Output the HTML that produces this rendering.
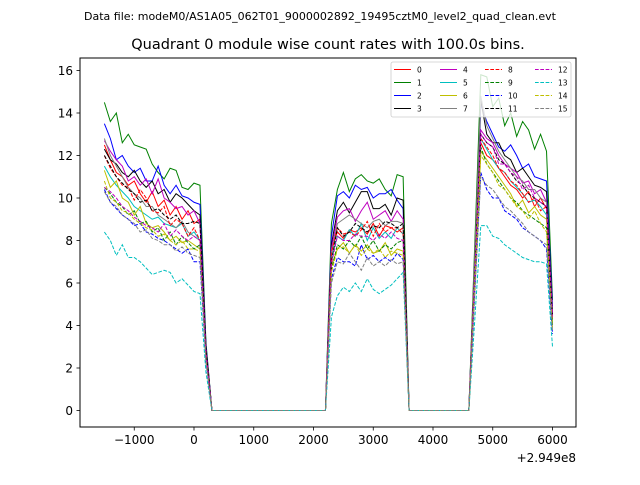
<!DOCTYPE html>
<html><head><meta charset="utf-8"><style>
body{margin:0;background:#fff;}
svg text{font-family:"DejaVu Sans","Liberation Sans",sans-serif;}
</style></head><body>
<svg id="chart" width="640" height="480" xmlns="http://www.w3.org/2000/svg">
<rect width="640" height="480" fill="#fff"/>
<text x="320" y="20" font-size="11" text-anchor="middle">Data file: modeM0/AS1A05_062T01_9000002892_19495cztM0_level2_quad_clean.evt</text>
<text x="328" y="49" font-size="14.5" text-anchor="middle">Quadrant 0 module wise count rates with 100.0s bins.</text>
<g id="series"></g>
<rect x="80" y="58" width="496" height="369" fill="none" stroke="#000" stroke-width="1"/>
<g id="axes"></g>
<g id="legend"></g>
</svg>
<script>
const xTicks=[-1000,0,1000,2000,3000,4000,5000,6000];
const xTickLabels=['\u22121000','0','1000','2000','3000','4000','5000','6000'];
const yTicks=[0,2,4,6,8,10,12,14,16];
const offsetLabel='+2.949e8';
const seriesNames=['0','1','2','3','4','5','6','7','8','9','10','11','12','13','14','15'];
const colors=['#ff0000','#008000','#0000ff','#000000','#bf00bf','#00bfbf','#bfbf00','#808080','#ff0000','#008000','#0000ff','#000000','#bf00bf','#00bfbf','#bfbf00','#808080'];
// segment 1: t=-1500..100, then t=200 value
const seg1=[
[12.5,11.8,11.2,11.0,10.6,10.8,10.2,9.8,10.3,9.6,9.9,9.2,9.6,9.0,9.4,8.8,9.0,3.0],
[14.5,13.6,14.0,12.6,13.0,12.5,12.4,12.3,11.6,11.2,10.9,11.4,11.3,10.5,10.4,10.7,10.6,3.2],
[13.5,12.8,11.8,12.0,11.5,11.2,11.4,10.8,10.8,11.5,10.6,10.2,10.6,10.1,10.0,9.8,9.7,3.1],
[12.3,11.8,11.6,11.2,11.0,11.3,10.8,10.5,10.8,10.2,10.4,9.8,10.2,10.0,9.7,9.4,9.2,3.0],
[12.7,12.2,11.8,11.5,10.8,11.0,10.6,10.9,10.2,10.9,10.0,9.8,9.5,9.6,9.2,9.4,8.8,2.9],
[11.5,11.0,10.6,10.3,10.0,9.6,9.4,9.2,9.0,9.1,8.8,8.7,8.6,8.8,8.2,8.4,8.0,2.6],
[11.3,10.5,10.8,10.0,9.8,9.2,9.6,8.8,8.6,8.7,8.4,8.0,8.2,7.9,8.0,7.8,7.6,2.5],
[12.8,12.0,11.5,11.0,10.5,10.2,10.0,9.6,9.6,9.2,9.0,8.8,8.6,8.9,8.4,8.2,8.0,2.6],
[12.0,11.4,11.0,10.6,10.5,9.9,10.4,10.0,9.4,9.3,9.6,8.7,9.0,8.8,8.2,8.6,8.0,2.7],
[10.5,10.2,9.8,9.6,9.2,9.4,8.8,8.9,8.4,8.6,8.0,8.4,7.8,8.2,7.9,7.6,7.8,2.5],
[10.4,9.8,9.5,9.2,9.0,8.7,8.8,8.4,8.3,8.1,8.0,7.8,7.6,7.4,7.6,7.0,7.0,2.3],
[12.0,11.5,11.0,10.7,10.4,10.2,9.8,9.9,9.4,9.5,9.2,9.0,9.2,8.8,8.8,8.9,8.8,2.9],
[10.5,10.3,10.0,9.6,9.4,9.1,8.9,8.7,8.6,8.4,8.8,8.2,8.5,8.2,8.0,8.2,8.0,2.6],
[8.4,8.0,7.3,7.8,7.2,7.2,7.0,6.7,6.4,6.5,6.6,6.5,6.0,6.2,5.9,5.6,5.5,1.8],
[10.8,10.0,9.8,9.4,9.3,9.0,8.8,8.6,8.5,8.2,8.3,8.0,7.8,8.0,7.6,7.6,7.5,2.4],
[10.3,9.8,9.6,9.2,9.0,8.8,8.4,8.5,8.1,8.0,7.8,7.8,7.5,7.7,7.4,7.3,7.2,2.3]];
// segment 2: t=2300..3500
const seg2=[
[7.6,8.4,8.1,8.5,8.4,8.6,8.3,8.8,8.2,8.7,8.6,8.4,8.6],
[8.8,10.4,11.2,10.3,10.9,11.1,10.8,10.7,10.9,10.4,10.1,11.1,11.0],
[8.2,10.1,10.3,10.0,10.6,10.4,10.5,10.0,10.2,10.2,10.4,9.9,9.5],
[7.8,9.4,9.8,9.3,9.8,10.3,10.3,9.5,9.5,9.7,9.2,10.0,9.9],
[7.6,9.1,9.4,9.5,8.9,9.4,9.8,9.0,9.2,9.4,8.9,9.4,9.0],
[7.2,8.2,8.0,8.5,8.2,8.8,8.0,8.6,8.1,8.4,8.1,8.6,8.3],
[6.8,7.6,7.9,7.4,7.8,7.5,7.8,7.4,7.5,7.9,7.3,7.6,7.5],
[7.4,8.8,9.0,9.2,9.0,8.8,8.6,8.9,9.0,8.7,8.9,8.9,8.8],
[7.4,8.6,8.3,8.4,8.2,8.5,8.9,8.2,8.8,8.4,8.6,8.6,8.3],
[6.6,7.8,7.6,8.0,7.7,8.2,7.6,8.0,7.5,7.8,7.6,7.9,8.0],
[6.2,7.2,7.0,7.0,6.8,7.8,7.1,7.3,7.0,7.2,7.0,7.4,7.1],
[7.0,8.6,8.2,8.4,8.8,8.6,8.4,8.7,8.6,8.9,8.8,8.6,8.8],
[6.9,8.2,8.0,8.0,8.3,8.2,8.2,8.0,8.3,8.1,8.4,8.1,8.0],
[4.4,5.4,5.8,5.6,6.0,5.6,6.2,5.7,5.5,5.7,5.9,6.2,6.5],
[6.5,7.6,7.7,7.4,7.8,7.3,7.6,7.4,7.6,7.2,7.5,7.4,7.3],
[6.0,7.0,6.9,7.4,7.0,6.6,7.2,6.8,7.0,6.8,7.1,6.9,7.0]];
// segment 3: t=4700..5900, then t=6000 value
const seg3=[
[6.4,12.6,12.0,11.8,11.4,11.0,10.6,10.4,10.0,10.3,9.6,10.0,9.5,4.3],
[7.9,15.8,15.7,14.3,14.7,13.4,14.0,12.9,13.6,13.2,12.3,13.0,12.2,5.2],
[7.2,14.4,13.6,13.0,12.4,12.2,12.5,12.0,11.4,11.6,11.0,10.9,10.8,4.9],
[7.3,14.6,13.0,12.6,12.6,12.0,11.8,11.2,11.4,11.0,10.6,10.5,10.3,4.6],
[6.6,13.2,12.8,12.6,12.0,11.6,11.4,11.2,10.7,10.8,10.2,10.4,9.8,4.5],
[6.4,12.8,12.3,11.8,11.4,11.2,10.8,10.5,10.2,9.8,9.9,9.6,9.2,4.2],
[6.1,12.2,11.8,11.4,11.0,10.6,10.2,9.6,9.9,9.3,9.6,9.2,9.0,4.1],
[7.4,14.8,13.4,12.8,12.2,11.8,11.4,11.0,10.8,10.4,10.4,10.0,9.8,4.4],
[6.4,12.8,12.4,12.0,11.4,11.2,10.8,10.6,10.2,9.8,10.0,9.4,9.6,4.3],
[6.2,12.4,11.6,11.2,10.8,10.4,10.0,9.8,9.4,9.2,9.0,8.8,8.6,4.0],
[5.6,11.2,10.4,10.0,10.0,9.4,9.2,9.0,8.6,8.4,8.2,8.0,7.6,3.6],
[6.5,13.0,12.6,12.4,11.8,11.6,11.2,10.8,10.6,10.2,10.0,9.8,9.6,4.4],
[6.5,13.0,12.6,12.4,11.6,11.6,11.2,11.0,10.4,10.6,10.0,9.8,9.6,4.4],
[4.3,8.7,8.7,8.2,8.1,7.8,7.6,7.4,7.2,7.1,7.0,7.0,6.9,3.0],
[6.0,12.0,11.6,11.2,10.6,10.4,10.0,9.6,9.4,9.0,9.4,8.8,8.4,3.9],
[5.5,11.0,10.6,10.4,10.0,9.6,9.4,9.1,8.8,8.4,8.2,8.0,7.8,3.7]];

const NS='http://www.w3.org/2000/svg';
const X=v=>194.0+v*0.05975;
const Y=v=>410.5-v*21.25;
function mk(tag,at,parent){const e=document.createElementNS(NS,tag);for(const k in at)e.setAttribute(k,at[k]);parent.appendChild(e);return e;}

const sg=document.getElementById('series');
for(let s=0;s<16;s++){
  const pts=[];
  seg1[s].forEach((v,i)=>pts.push([-1500+100*i,v]));
  for(let t=300;t<=2200;t+=100)pts.push([t,0]);
  seg2[s].forEach((v,i)=>pts.push([2300+100*i,v]));
  for(let t=3600;t<=4600;t+=100)pts.push([t,0]);
  seg3[s].forEach((v,i)=>pts.push([4700+100*i,v]));
  const d=pts.map((p,i)=>(i?'L':'M')+X(p[0]).toFixed(2)+' '+Y(p[1]).toFixed(2)).join(' ');
  const at={d:d,fill:'none',stroke:colors[s],'stroke-width':1};
  if(s>=8)at['stroke-dasharray']='3.7,1.6';
  const p=mk('path',at,sg);
  
  
}

const ax=document.getElementById('axes');
xTicks.forEach((v,i)=>{
  const x=X(v);
  const l=mk('line',{x1:x,x2:x,y1:427,y2:430.5,stroke:'#000','stroke-width':0.8},ax);
  
  
  const t=mk('text',{x:x,y:444,'font-size':'12','text-anchor':'middle'},ax);
  t.textContent=xTickLabels[i];
  
  
});
const off=mk('text',{x:576,y:462,'font-size':'12','text-anchor':'end'},ax);
off.textContent=offsetLabel;


yTicks.forEach(v=>{
  const y=Y(v);
  const l=mk('line',{x1:76.5,x2:80,y1:y,y2:y,stroke:'#000','stroke-width':0.8},ax);
  
  
  const t=mk('text',{x:73,y:y+4.3,'font-size':'12','text-anchor':'end'},ax);
  t.textContent=String(v);
  
  
});

const lg=document.getElementById('legend');
mk('rect',{x:391,y:62,width:180,height:55,rx:2,fill:'#fff','fill-opacity':0.8,stroke:'#ccc','stroke-width':0.8},lg);
const colX=[394,440,485,535];
for(let s=0;s<16;s++){
  const c=Math.floor(s/4),r=s%4;
  const y=69.5+r*13;
  const at={x1:colX[c],x2:colX[c]+17,y1:y,y2:y,stroke:colors[s],'stroke-width':1};
  if(s>=8)at['stroke-dasharray']='3.7,1.6';
  const l=mk('line',at,lg);
  
  
  const t=mk('text',{x:colX[c]+23,y:y+2.8,'font-size':'7.5'},lg);
  t.textContent=seriesNames[s];
  
  
}
</script>
</body></html>
